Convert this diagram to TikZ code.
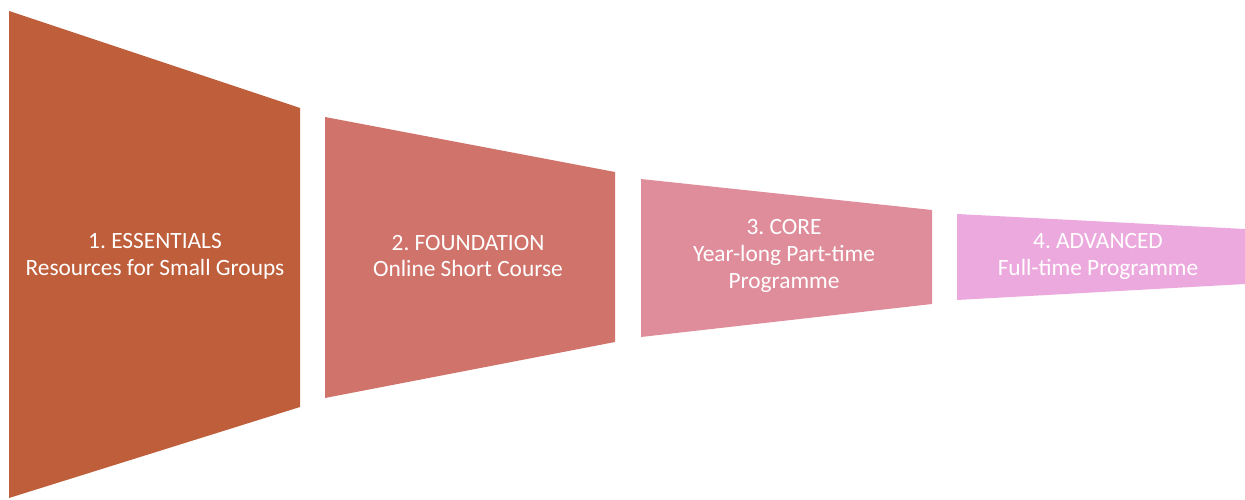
\documentclass[tikz,border=0pt]{standalone}
\usepackage{fontspec}
\setmainfont{Carlito}
\usetikzlibrary{positioning}

\definecolor{essentialsclr}{HTML}{BE5E3B}
\definecolor{foundationclr}{HTML}{D0736A}
\definecolor{coreclr}{HTML}{E08D9B}
\definecolor{advancedclr}{HTML}{ECA9DE}

\begin{document}
\begin{tikzpicture}[
    x=0.02cm,
    y=-0.02cm,
    stage/.style={
        draw=none,
    },
    caption/.style={
        text=white,
        align=center,
        inner sep=0pt,
        font=\fontsize{13.3}{15.3}\selectfont\frenchspacing,
    }
]
    \useasboundingbox (0,0) rectangle (1245,500);

    % Stages
    \fill[stage, essentialsclr] (9,11) -- (300,108) -- (300,407) -- (9,498) -- cycle;
    \fill[stage, foundationclr] (325,117) -- (615,172) -- (615,342) -- (325,398) -- cycle;
    \fill[stage, coreclr] (641,179) -- (932,210) -- (932,304) -- (641,337) -- cycle;
    \fill[stage, advancedclr] (957,214) -- (1245,229) -- (1245,284) -- (957,300) -- cycle;

    % Stage labels
    \node[caption] (essentials) at (155,256) {1. ESSENTIALS\\Resources for Small Groups};
    \node[caption] (foundation) at (468,256) {2. FOUNDATION\\Online Short Course};
    \node[caption] (core) at (784,256) {3. CORE\\Year-long Part-time\\Programme};
    \node[caption] (advanced) at (1098,256) {4. ADVANCED\\Full-time Programme};
\end{tikzpicture}
\end{document}
